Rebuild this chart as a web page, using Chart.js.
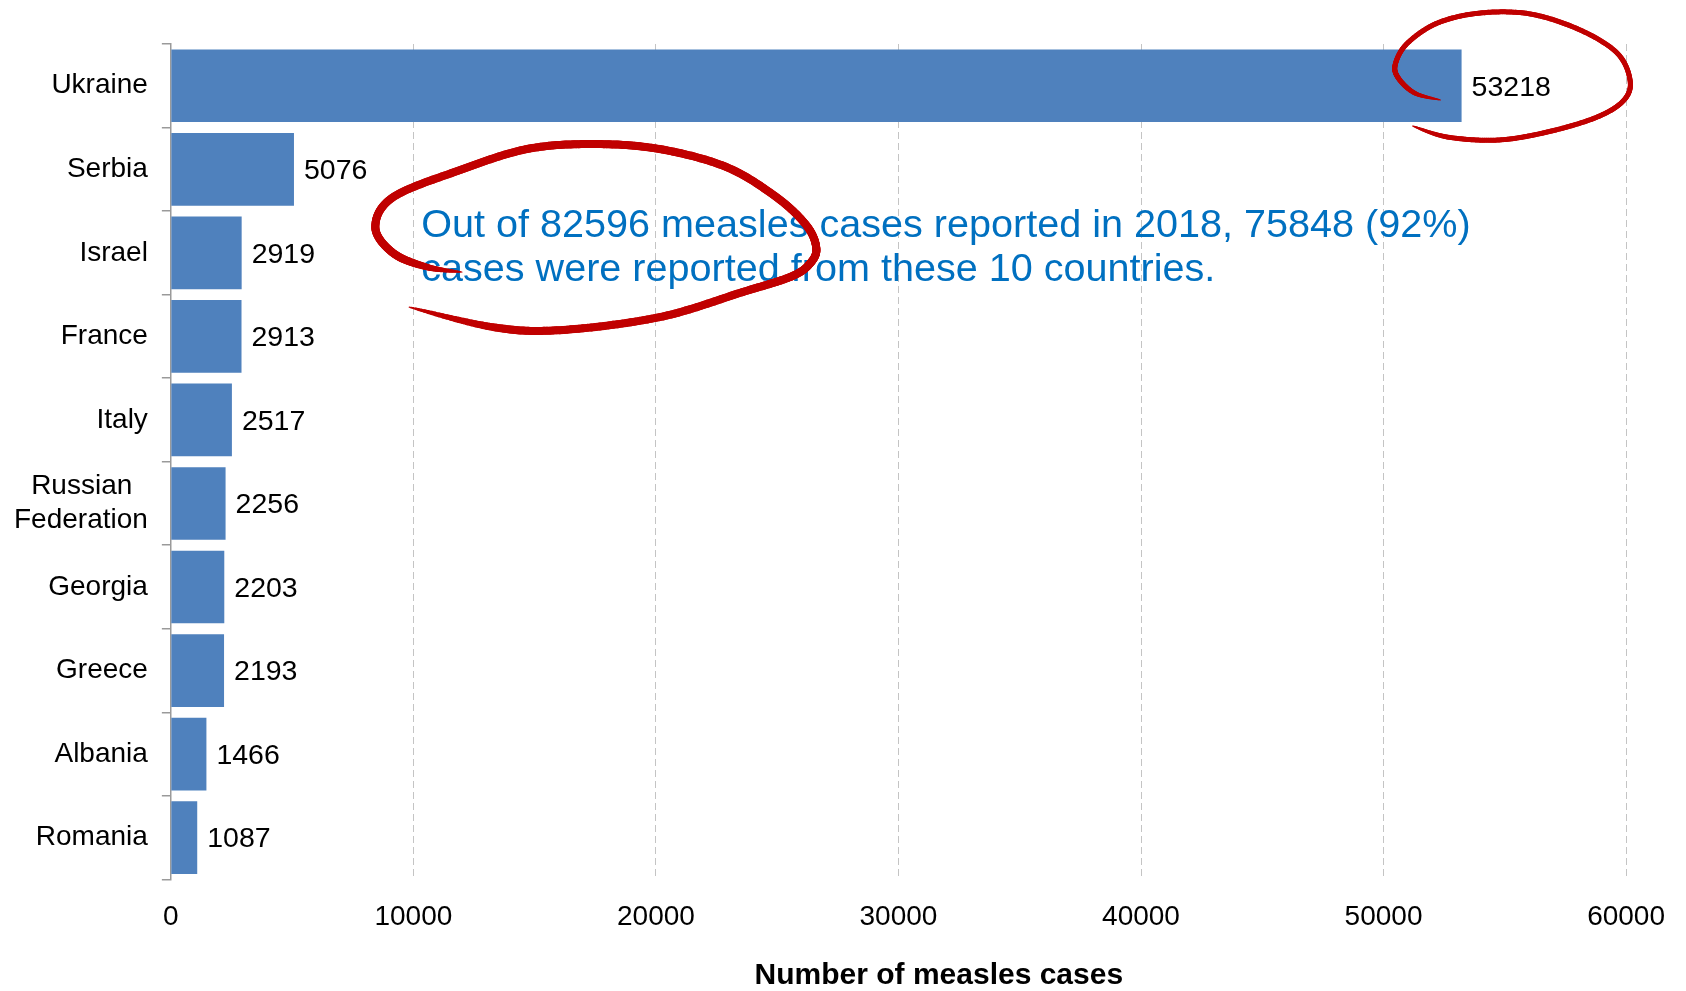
<!DOCTYPE html>
<html><head><meta charset="utf-8">
<script src="https://cdn.jsdelivr.net/npm/chart.js@4.4.1/dist/chart.umd.min.js"></script>
<style>html,body{margin:0;padding:0;background:#fff;overflow:hidden}#wrap{width:1686px;height:991px}</style>
</head><body><div id="wrap"><canvas id="c" width="1686" height="991"></canvas></div>
<script>
// ---- data ----
const countries = ['Ukraine','Serbia','Israel','France','Italy',['Russian  ','Federation'],'Georgia','Greece','Albania','Romania'];
const cases = [53218,5076,2919,2913,2517,2256,2203,2193,1466,1087];
const xTicks = [0,10000,20000,30000,40000,50000,60000];
const axisTitle = 'Number of measles cases';
const noteLines = ['Out of 82596 measles cases reported in 2018, 75848 (92%)','cases were reported from these 10 countries.'];

// ---- decoration shapes (reference layout units) ----
const bigLoop = [[462,272],[427,267],[393,253],[375,227],[393,197],[460,170],[527,149],[593,144],[660,149],[727,167],[777,197],[807,225],[817,247],[812,262],[793,276],[743,292],[660,317],[560,330],[493,327],[409,307]];
const smallLoop = [[1443,100],[1417,93],[1400,77],[1398,63],[1410,43],[1440,23],[1483,13],[1533,14],[1583,30],[1620,53],[1633,80],[1627,100],[1600,117],[1550,132],[1500,140],[1450,137],[1415,126]];

const FONT = "'Liberation Sans', Arial, sans-serif";
Chart.defaults.font.family = FONT;

function refToCanvas(chart, px, py){
  const xs = chart.scales.x, ys = chart.scales.y;
  const xv = (px - 170) / 243.17 * 10000;
  const yi = (py - 44) / 83.5 - 0.5;
  return [xs.getPixelForValue(xv), ys.getPixelForValue(yi)];
}
function catmull(pts, n){
  const out=[];
  for(let i=0;i<pts.length-1;i++){
    const p0=pts[Math.max(i-1,0)],p1=pts[i],p2=pts[i+1],p3=pts[Math.min(i+2,pts.length-1)];
    for(let k=0;k<n;k++){
      const t=k/n,t2=t*t,t3=t2*t;
      const f=j=>0.5*((2*p1[j])+(-p0[j]+p2[j])*t+(2*p0[j]-5*p1[j]+4*p2[j]-p3[j])*t2+(-p0[j]+3*p1[j]-3*p2[j]+p3[j])*t3);
      out.push([f(0),f(1)]);
    }
  }
  out.push(pts[pts.length-1]);
  return out;
}
function brush(ctx, chart, pts, wmax, a, b){
  const cp = pts.map(p=>refToCanvas(chart,p[0],p[1]));
  const s = catmull(cp, 24);
  ctx.save();
  ctx.strokeStyle = '#C00000';
  ctx.lineCap = 'round';
  const N = s.length-1;
  for(let i=0;i<N;i++){
    const t=i/N;
    let e=Math.min(1,t/a,(1-t)/b);
    e = e*(2-e);
    ctx.lineWidth = 0.8 + (wmax-0.8)*e;
    ctx.beginPath();
    ctx.moveTo(s[i][0],s[i][1]);
    ctx.lineTo(s[i+1][0],s[i+1][1]);
    ctx.stroke();
  }
  ctx.restore();
}

const decor = {
  id:'decor',
  afterDatasetsDraw(chart){
    const ctx = chart.ctx;
    const meta = chart.getDatasetMeta(0);
    ctx.save();
    ctx.font = '28.5px ' + FONT;
    ctx.fillStyle = '#000';
    ctx.textBaseline = 'middle';
    ctx.textAlign = 'left';
    meta.data.forEach((bar,i)=>{
      ctx.fillText(String(cases[i]), bar.x + 10, bar.y + 2);
    });
    // note text
    ctx.font = '39.6px ' + FONT;
    ctx.fillStyle = '#0070C0';
    ctx.textBaseline = 'alphabetic';
    let p = refToCanvas(chart, 421, 237);
    ctx.fillText(noteLines[0], p[0], p[1]);
    p = refToCanvas(chart, 421, 281);
    ctx.fillText(noteLines[1], p[0], p[1]);
    // axis title
    ctx.font = 'bold 30px ' + FONT;
    ctx.fillStyle = '#000';
    ctx.textAlign = 'center';
    p = refToCanvas(chart, 940, 984);
    ctx.fillText(axisTitle, p[0], p[1]);
    ctx.restore();
    brush(ctx, chart, bigLoop, 8, 0.1, 0.07);
    brush(ctx, chart, smallLoop, 5, 0.1, 0.08);
  }
};

new Chart(document.getElementById('c'), {
  type:'bar',
  data:{ labels: countries, datasets:[{ data: cases, backgroundColor:'#4F81BD', borderWidth:0, categoryPercentage:1, barPercentage:0.87 }]},
  options:{
    indexAxis:'y', responsive:false, animation:false, devicePixelRatio:1,
    layout:{ padding:{ left:0, right:54, top:44, bottom:36 } },
    plugins:{ legend:{display:false}, tooltip:{enabled:false}, title:{display:false} },
    scales:{
      x:{
        type:'linear', min:xTicks[0], max:xTicks[xTicks.length-1],
        afterBuildTicks(scale){ scale.ticks = xTicks.map(v=>({value:v})); },
        ticks:{ font:{size:28}, color:'#000', padding:21, maxRotation:0, autoSkip:false, callback:v=>String(v) },
        grid:{ drawTicks:false, lineWidth:1, color:c=> (c.tick && c.tick.value===0) ? 'rgba(0,0,0,0)' : '#c4c4c4' },
        border:{ display:false, dash:[7,4] }
      },
      y:{
        type:'category',
        ticks:{ font:{size:28}, color:'#000', padding:14, autoSkip:false },
        grid:{ offset:true, drawOnChartArea:false, drawTicks:true, tickLength:9, color:'#9a9a9a', lineWidth:1.5 },
        border:{ display:true, color:'#9a9a9a', width:1.5 }
      }
    }
  },
  plugins:[decor]
});
</script>
</body></html>
